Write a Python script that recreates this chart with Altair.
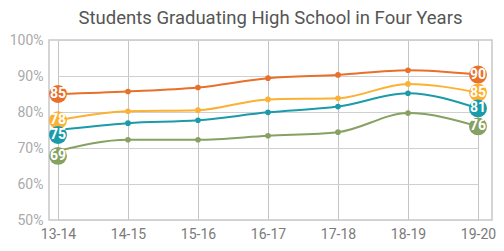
import altair as alt
import pandas as pd

years = ["13-14", "14-15", "15-16", "16-17", "17-18", "18-19", "19-20"]
series = ["A", "B", "C", "D"]
colors = ["#E8702A", "#FBB134", "#1B9BA9", "#86A161"]
vals_a = [85.0, 85.7, 86.8, 89.4, 90.3, 91.6, 90.4]
vals_b = [77.7, 80.2, 80.5, 83.5, 83.8, 87.8, 85.4]
vals_c = [75.0, 76.9, 77.7, 79.9, 81.5, 85.2, 81.0]
vals_d = [69.2, 72.3, 72.3, 73.4, 74.4, 79.7, 76.0]
start_labels = [85, 78, 75, 69]
end_labels = [90, 85, 81, 76]
start_nudged = [False, False, True, True]
y_ticks = [50, 60, 70, 80, 90, 100]

rows = []
for s, vals, sl, el, nd in zip(series, [vals_a, vals_b, vals_c, vals_d], start_labels, end_labels, start_nudged):
    for i, (yr, v) in enumerate(zip(years, vals)):
        lab = ""
        if i == 0:
            lab = str(sl)
        elif i == len(years) - 1:
            lab = str(el)
        rows.append({"year": yr, "value": v, "series": s, "label": lab, "end": lab != "",
                     "nudge": bool(nd and i == 0)})
df = pd.DataFrame(rows)

font = "Roboto"
x = alt.X("year:O", sort=years, scale=alt.Scale(type="point", range=[9, 429], padding=0),
          axis=alt.Axis(title=None, labelAngle=0, grid=True, gridColor="#c4c4c4", domain=False,
                        ticks=False, labelColor="#7a7a7a", labelFontSize=14, labelFont=font,
                        labelPadding=7))
y = alt.Y("value:Q", scale=alt.Scale(domain=[50, 100], nice=False, zero=False),
          axis=alt.Axis(title=None, values=y_ticks, labelExpr="datum.value + '%'", grid=True,
                        gridColor="#d0d0d0", domain=False, ticks=False, labelColor="#aaaaaa",
                        labelFontSize=14, labelFont=font, labelPadding=6))
color = alt.Color("series:N", scale=alt.Scale(domain=series, range=colors), legend=None)

base = alt.Chart(df)
lines = base.mark_line(interpolate="monotone", strokeWidth=2).encode(x=x, y=y, color=color)
dots = base.transform_filter("!datum.end").mark_circle(size=32, opacity=1).encode(x=x, y=y, color=color)

plain = base.transform_filter("datum.end && !datum.nudge")
nudged = base.transform_filter("datum.nudge")
big1 = plain.mark_circle(size=320, opacity=1).encode(x=x, y=y, color=color)
txt1 = plain.mark_text(color="white", fontSize=14, fontWeight="bold", font=font,
                       baseline="middle", align="center").encode(x=x, y=y, text="label:N")
big2 = nudged.mark_circle(size=320, opacity=1, yOffset=5).encode(x=x, y=y, color=color)
txt2 = nudged.mark_text(color="white", fontSize=14, fontWeight="bold", font=font, yOffset=5,
                        baseline="middle", align="center").encode(x=x, y=y, text="label:N")

chart = alt.layer(lines, dots, big1, txt1, big2, txt2).properties(
    width=443, height=180,
    autosize=alt.AutoSizeParams(type="none"),
    padding={"left": 41, "right": 4, "top": 32, "bottom": 23},
    title=alt.TitleParams("Students Graduating High School in Four Years", font=font, fontSize=18.5,
                          fontWeight="normal", color="#555555", anchor="middle", offset=6),
).configure_view(stroke="#c8c8c8", strokeWidth=1.5)

chart.save("out.html", embed_options={"renderer": "svg", "actions": False})
